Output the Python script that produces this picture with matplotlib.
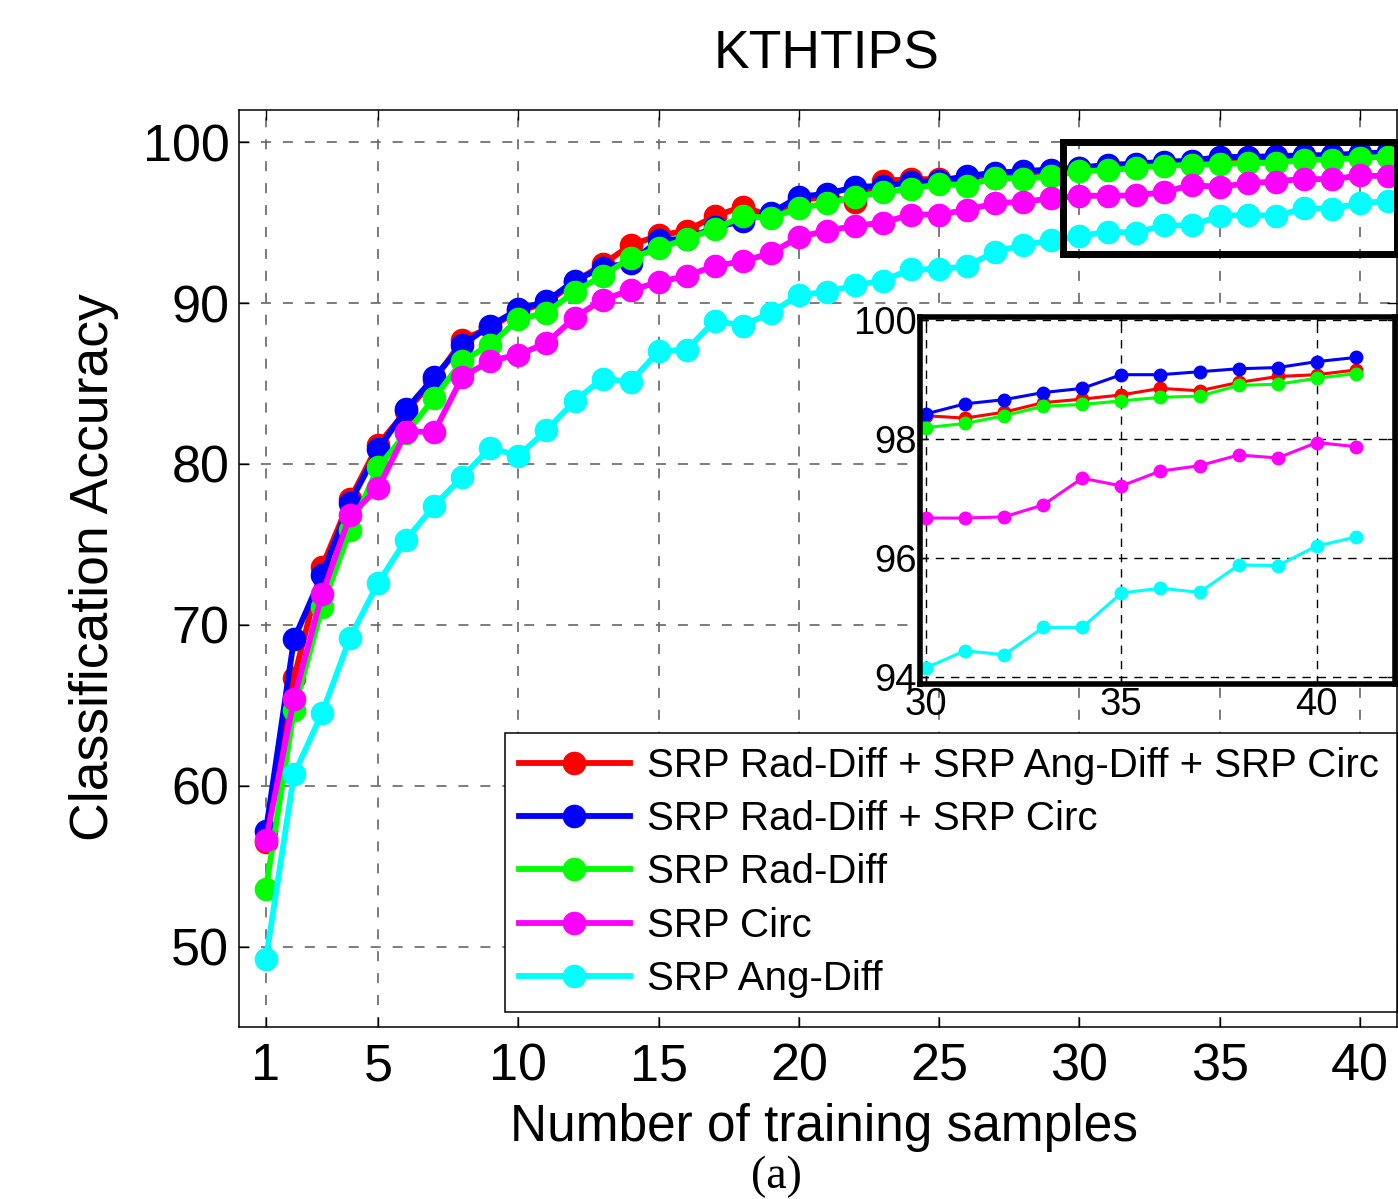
import matplotlib
matplotlib.use("Agg")
import numpy as np
import matplotlib.pyplot as plt
from matplotlib.patches import Rectangle

plt.rcParams['font.family'] = ['Liberation Sans', 'DejaVu Sans']
plt.rcParams['lines.scale_dashes'] = False

# number of training samples
samples = list(range(1, 42))

# classification accuracy (%) per method
acc_rad_ang_circ = [56.5, 66.7, 73.6, 77.8, 81.2, 83.3, 85.2, 87.7, 88.5, 89.5,
                    90.0, 91.3, 92.4, 93.6, 94.2, 94.5, 95.4, 96.0, 95.4, 96.4,
                    96.6, 96.3, 97.6, 97.7, 97.7, 97.5, 97.8, 97.8, 98.1,
                    98.39, 98.35, 98.45, 98.61, 98.67, 98.74, 98.85, 98.81, 98.95, 99.05, 99.08, 99.16]
acc_rad_circ = [57.2, 69.1, 73.1, 77.6, 80.9, 83.4, 85.4, 87.4, 88.6, 89.6,
                90.1, 91.4, 92.2, 92.5, 93.9, 94.0, 94.7, 95.1, 95.6, 96.6,
                96.8, 97.2, 97.3, 97.5, 97.6, 97.9, 98.1, 98.2, 98.3,
                98.42, 98.59, 98.66, 98.78, 98.85, 99.08, 99.08, 99.13, 99.18, 99.20, 99.30, 99.37]
acc_rad = [53.6, 64.7, 71.1, 75.9, 79.8, 81.9, 84.1, 86.4, 87.4, 89.0,
           89.4, 90.7, 91.7, 92.8, 93.4, 94.0, 94.6, 95.4, 95.3, 95.9,
           96.2, 96.6, 96.9, 97.1, 97.4, 97.3, 97.8, 97.7, 97.9,
           98.19, 98.26, 98.39, 98.55, 98.58, 98.64, 98.70, 98.72, 98.90, 98.92, 99.02, 99.10]
acc_circ = [56.6, 65.4, 71.9, 76.8, 78.5, 82.0, 82.0, 85.4, 86.4, 86.8,
            87.5, 89.1, 90.2, 90.8, 91.3, 91.7, 92.3, 92.6, 93.1, 94.1,
            94.5, 94.8, 95.0, 95.5, 95.5, 95.8, 96.2, 96.3, 96.5,
            96.67, 96.67, 96.69, 96.89, 97.34, 97.21, 97.46, 97.55, 97.73, 97.68, 97.94, 97.87]
acc_ang = [49.2, 60.7, 64.5, 69.2, 72.6, 75.3, 77.4, 79.2, 81.0, 80.5,
           82.1, 83.9, 85.3, 85.1, 87.0, 87.1, 88.9, 88.6, 89.4, 90.5,
           90.7, 91.1, 91.4, 92.1, 92.1, 92.3, 93.2, 93.6, 93.9,
           94.15, 94.44, 94.37, 94.83, 94.83, 95.41, 95.49, 95.42, 95.88, 95.87, 96.20, 96.35]

series = [acc_rad_ang_circ, acc_rad_circ, acc_rad, acc_circ, acc_ang]
labels = ["SRP Rad-Diff + SRP Ang-Diff + SRP Circ",
          "SRP Rad-Diff + SRP Circ",
          "SRP Rad-Diff",
          "SRP Circ",
          "SRP Ang-Diff"]
colors = ["#ff0000", "#0000ff", "#00ff00", "#ff00ff", "#00ffff"]

main_xticks = [1, 5, 10, 15, 20, 25, 30, 35, 40]
main_yticks = [50, 60, 70, 80, 90, 100]
zoom_xticks = [30, 35, 40]
zoom_yticks = [94, 96, 98, 100]

W, H = 1398, 1199
fig = plt.figure(figsize=(W / 100, H / 100), dpi=100)

# main axes
ax = fig.add_axes([239 / W, 1 - 1027 / H, (1397 - 239) / W, (1027 - 110) / H])
for vals, lab, col in zip(series, labels, colors):
    ax.plot(samples, vals, '-o', color=col, lw=4.2, markersize=16, label=lab)

xmax = 41.32
ax.set_xlim(0.04, xmax)
ax.set_ylim(45, 102)
ax.set_xticks(main_xticks)
ax.set_yticks(main_yticks)
ax.tick_params(direction='in', length=7, width=1, labelsize=37.5,
               top=True, right=True)
ax.tick_params(axis='x', pad=11)
ax.tick_params(axis='y', pad=7)
ax.grid(True, color='0.4', lw=1.2, linestyle=(0, (7.2, 8.6)))
for s in ax.spines.values():
    s.set_linewidth(1.1)

# highlighted region
rect = Rectangle((29.4, 93.05), xmax - 29.4, 100 - 93.05, fill=False,
                 edgecolor='black', lw=5, zorder=5, clip_on=False)
ax.add_patch(rect)

leg = ax.legend(loc='lower left', mode='expand',
                bbox_to_anchor=(505 / W, 1 - 1012 / H, (1397 - 505) / W, 0.1),
                bbox_transform=fig.transFigure, borderaxespad=0,
                fontsize=29, handlelength=2.75, handletextpad=0.42,
                labelspacing=0.38, borderpad=0.35, fancybox=False,
                framealpha=1, edgecolor='black')
leg.get_frame().set_linewidth(1.1)

# zoomed inset
axin = fig.add_axes([920 / W, 1 - 684 / H, 475 / W, 367 / H])
for vals, col in zip(series, colors):
    axin.plot(samples[29:], vals[29:], '-o', color=col, lw=2.2, markersize=9)
axin.set_xlim(29.85, 42.0)
axin.set_ylim(93.88, 100.05)
axin.set_xticks(zoom_xticks)
axin.set_yticks(zoom_yticks)
axin.tick_params(direction='in', length=6, width=1, labelsize=27.5, pad=2,
                 top=True, right=True)
axin.grid(True, color='black', lw=1, linestyle=(0, (6, 5)))
for s in axin.spines.values():
    s.set_linewidth(4)

# texts
fig.text(826.7 / W, 1 - 68.3 / H, "KTHTIPS", ha='center', va='baseline', fontsize=38.5)
fig.text(824.5 / W, 1 - 1141 / H, "Number of training samples", ha='center',
         va='baseline', fontsize=37)
fig.text(94 / W, 1 - 567 / H, "Classification Accuracy", ha='center', va='center',
         rotation=90, fontsize=38.5)
fig.text(776 / W, 1 - 1188 / H, "(a)", ha='center', va='baseline', fontsize=33,
         family=['Liberation Serif', 'DejaVu Serif'])

fig.savefig("out.png", dpi=100)
